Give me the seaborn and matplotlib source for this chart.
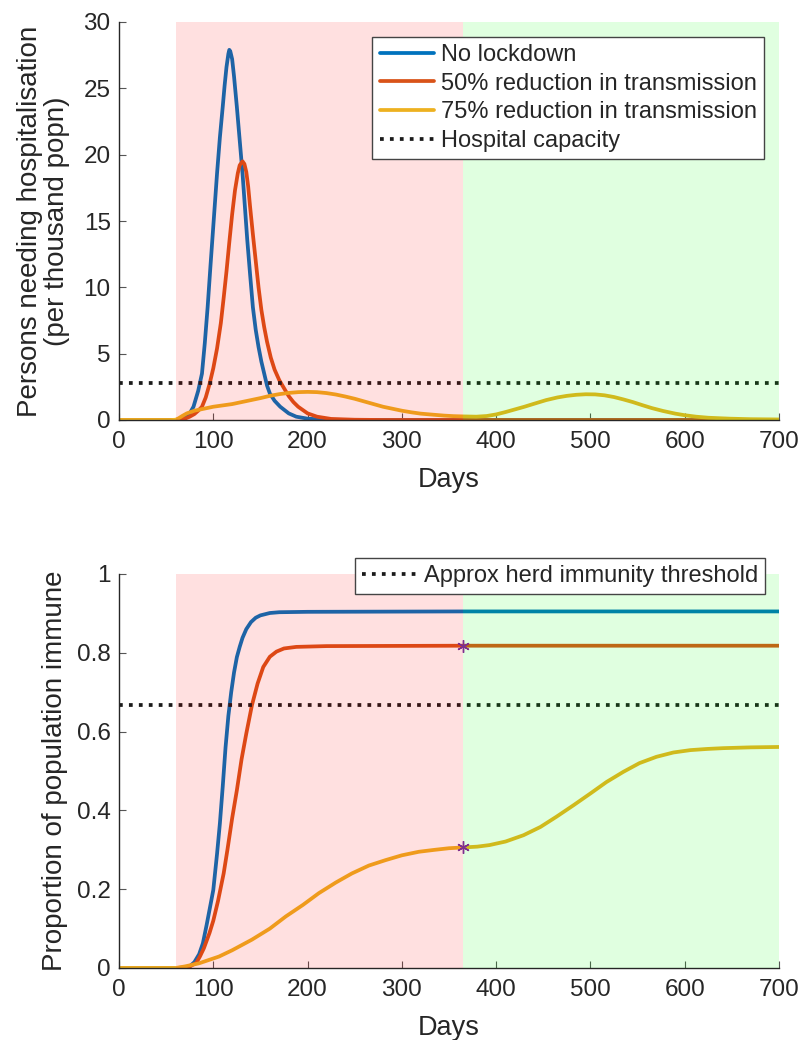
import matplotlib
matplotlib.use('Agg')
import matplotlib.pyplot as plt
import matplotlib.ticker as mticker
from matplotlib.lines import Line2D
import seaborn as sns
import pandas as pd

# scenarios and their MATLAB-style colours
scenarios = ["No lockdown", "50% reduction in transmission", "75% reduction in transmission"]
colours = ["#0072BD", "#D95319", "#EDB120"]

lockdown_start = 60
lockdown_end = 365
day_max = 700
hospital_capacity = 2.8
herd_threshold = 0.667

# persons needing hospitalisation (per thousand popn)
hosp_days_none = [0, 60, 65, 70, 75, 79, 84, 88, 91, 94, 97, 99, 102, 104, 107, 110, 112, 114, 116, 117,
                  118, 120, 122, 125, 128, 131, 134, 136, 139, 142, 145, 148, 151, 154, 157, 160, 165,
                  171, 180, 188, 200, 220, 250, 365, 700]
hosp_none = [0, 0, 0.05, 0.2, 0.5, 1.0, 2.2, 3.5, 5.8, 8.5, 11.6, 13.6, 16.6, 18.6, 21.3, 23.6, 25.2, 26.6,
             27.6, 27.9, 27.8, 27.2, 25.9, 23.6, 21.1, 18.6, 15.6, 13.6, 11.0, 8.5, 6.8, 5.5, 4.4, 3.5,
             2.6, 2.0, 1.45, 1.0, 0.5, 0.25, 0.1, 0.02, 0, 0, 0]

hosp_days_50 = [0, 60, 65, 70, 75, 80, 84, 88, 92, 96, 100, 104, 108, 111, 114, 117, 120, 123, 126, 128,
                131, 133, 135, 137, 139, 142, 145, 148, 151, 154, 157, 161, 165, 170, 175, 180, 185,
                190, 200, 210, 225, 250, 280, 365, 700]
hosp_50 = [0, 0, 0.03, 0.1, 0.25, 0.45, 0.7, 1.0, 1.7, 2.7, 3.9, 5.4, 7.3, 9.2, 11.2, 13.4, 15.5, 17.3,
           18.6, 19.2, 19.5, 19.3, 18.7, 17.6, 16.1, 14.0, 12.0, 10.0, 8.3, 7.0, 5.9, 4.7, 3.8, 3.0,
           2.4, 1.8, 1.35, 1.0, 0.5, 0.25, 0.08, 0.02, 0, 0, 0]

hosp_days_75 = [0, 55, 60, 63, 67, 72, 80, 90, 100, 110, 120, 130, 140, 150, 160, 170, 180, 190, 200,
                210, 220, 230, 240, 250, 260, 270, 280, 290, 300, 310, 320, 333, 345, 355, 365, 379,
                390, 400, 410, 420, 430, 440, 453, 465, 475, 485, 495, 505, 515, 525, 535, 545, 555,
                565, 577, 590, 600, 612, 625, 648, 670, 700]
hosp_75 = [0, 0, 0.02, 0.12, 0.3, 0.5, 0.7, 0.85, 1.0, 1.1, 1.2, 1.35, 1.5, 1.65, 1.82, 1.95, 2.04,
           2.1, 2.12, 2.1, 2.03, 1.92, 1.77, 1.6, 1.4, 1.2, 1.0, 0.85, 0.7, 0.58, 0.48, 0.4, 0.33,
           0.29, 0.27, 0.25, 0.3, 0.42, 0.6, 0.8, 1.0, 1.22, 1.5, 1.7, 1.82, 1.9, 1.94, 1.93, 1.86,
           1.73, 1.55, 1.35, 1.12, 0.9, 0.68, 0.48, 0.36, 0.25, 0.17, 0.1, 0.06, 0.04]

# proportion of population immune
imm_days_none = [0, 60, 70, 75, 80, 85, 89, 93, 97, 100, 104, 107, 110, 113, 116, 119, 122, 125, 128,
                 131, 135, 140, 145, 150, 160, 170, 200, 365, 700]
imm_none = [0, 0, 0.001, 0.004, 0.015, 0.035, 0.063, 0.11, 0.16, 0.198, 0.29, 0.367, 0.46, 0.56, 0.64,
            0.70, 0.75, 0.789, 0.815, 0.838, 0.86, 0.878, 0.889, 0.895, 0.901, 0.903, 0.904, 0.905, 0.905]

imm_days_50 = [0, 60, 70, 76, 82, 86, 90, 96, 100, 105, 111, 115, 120, 125, 130, 135, 141, 147, 153,
               160, 167, 175, 188, 220, 365, 700]
imm_50 = [0, 0, 0.001, 0.005, 0.013, 0.03, 0.05, 0.089, 0.12, 0.17, 0.24, 0.3, 0.38, 0.451, 0.53,
          0.595, 0.667, 0.722, 0.764, 0.79, 0.803, 0.811, 0.815, 0.817, 0.818, 0.818]

imm_days_75 = [0, 60, 70, 85, 106, 120, 141, 160, 177, 195, 212, 230, 247, 265, 283, 300, 318, 335,
               350, 365, 380, 393, 410, 429, 447, 464, 482, 500, 517, 535, 552, 570, 588, 606, 624,
               641, 670, 700]
imm_75 = [0, 0, 0.004, 0.012, 0.029, 0.045, 0.072, 0.1, 0.131, 0.16, 0.19, 0.217, 0.24, 0.26, 0.274,
          0.286, 0.295, 0.3, 0.304, 0.306, 0.308, 0.312, 0.321, 0.337, 0.358, 0.384, 0.413, 0.443,
          0.472, 0.498, 0.52, 0.536, 0.547, 0.553, 0.556, 0.558, 0.56, 0.561]


def long_frame(days_list, values_list):
    parts = []
    for name, d, v in zip(scenarios, days_list, values_list):
        parts.append(pd.DataFrame({"day": d, "value": v, "scenario": name}))
    return pd.concat(parts, ignore_index=True)


hosp_df = long_frame([hosp_days_none, hosp_days_50, hosp_days_75], [hosp_none, hosp_50, hosp_75])
imm_df = long_frame([imm_days_none, imm_days_50, imm_days_75], [imm_none, imm_50, imm_75])

sns.set_style("ticks")
plt.rcParams['font.family'] = ['Liberation Sans', 'DejaVu Sans']

fig = plt.figure(figsize=(8.03, 10.40), dpi=100)
ax1 = fig.add_axes([119 / 803, 1 - 420 / 1040, 660 / 803, 398 / 1040])
ax2 = fig.add_axes([119 / 803, 1 - 968 / 1040, 660 / 803, 394 / 1040])

line_w = 2.7
for ax, df in [(ax1, hosp_df), (ax2, imm_df)]:
    sns.lineplot(data=df, x="day", y="value", hue="scenario", hue_order=scenarios,
                 palette=colours, estimator=None, lw=line_w, ax=ax, legend=False, zorder=2)
    # shaded lockdown / post-lockdown periods laid over the curves
    ax.axvspan(lockdown_start, lockdown_end, color=(1, 0, 0), alpha=0.12, lw=0, zorder=3)
    ax.axvspan(lockdown_end, day_max, color=(0, 1, 0), alpha=0.12, lw=0, zorder=3)
    ax.set_xlim(0, day_max)
    ax.set_xticks(range(0, day_max + 1, 100))
    ax.set_xlabel("Days", fontsize=19.5, labelpad=10)
    ax.tick_params(direction="in", length=5, width=0.8, color="#555555", labelsize=17.5, pad=8)
    for side in ["top", "right"]:
        ax.spines[side].set_visible(False)
    for side in ["left", "bottom"]:
        ax.spines[side].set_linewidth(1.0)
        ax.spines[side].set_color("#262626")
    ax.yaxis.set_major_formatter(mticker.FuncFormatter(lambda v, p: f"{v:g}"))

# top panel
ax1.axhline(hospital_capacity, color="#1a1a1a", ls=":", lw=line_w, zorder=2.5)
ax1.set_ylim(0, 30)
ax1.set_yticks(range(0, 31, 5))
ax1.tick_params(axis="y", pad=6)
ax1.set_ylabel("Persons needing hospitalisation\n(per thousand popn)", fontsize=20, labelpad=10,
               linespacing=1.05)
handles = [Line2D([], [], color=c, lw=line_w) for c in colours]
handles.append(Line2D([], [], color="#1a1a1a", ls=":", lw=line_w))
leg1 = ax1.legend(handles, scenarios + ["Hospital capacity"], loc="upper right",
                  bbox_to_anchor=(764 / 803, 1 - 37 / 1040), bbox_transform=fig.transFigure,
                  borderaxespad=0, fontsize=17, frameon=True, fancybox=False, framealpha=1,
                  edgecolor="#444444", handlelength=2.3, handletextpad=0.3, labelspacing=0.28,
                  borderpad=0.3)
leg1.get_frame().set_linewidth(1.0)

# bottom panel
ax2.axhline(herd_threshold, color="#1a1a1a", ls=":", lw=line_w, zorder=2.5)
ax2.set_ylim(0, 1)
ax2.set_yticks([0, 0.2, 0.4, 0.6, 0.8, 1.0])
ax2.tick_params(axis="y", pad=6)
ax2.set_ylabel("Proportion of population immune", fontsize=20, labelpad=6)

# lockdown-end markers on the immunity curves
end_x, end_y = [], []
for d, v in [(imm_days_50, imm_50), (imm_days_75, imm_75)]:
    i = d.index(lockdown_end)
    end_x.append(d[i])
    end_y.append(v[i])
ax2.plot(end_x, end_y, ls="none", marker=(6, 2, 0), ms=9, mew=1.0, color="#7E2F8E", zorder=4)

leg2 = ax2.legend([Line2D([], [], color="#1a1a1a", ls=":", lw=line_w)],
                  ["Approx herd immunity threshold"], loc="upper right",
                  bbox_to_anchor=(765 / 803, 1 - 558 / 1040), bbox_transform=fig.transFigure,
                  borderaxespad=0, fontsize=17, frameon=True, fancybox=False, framealpha=1,
                  edgecolor="#444444", handlelength=2.3, handletextpad=0.3, borderpad=0.3)
leg2.get_frame().set_linewidth(1.0)

fig.savefig("out.png", dpi=100)
plt.close(fig)
